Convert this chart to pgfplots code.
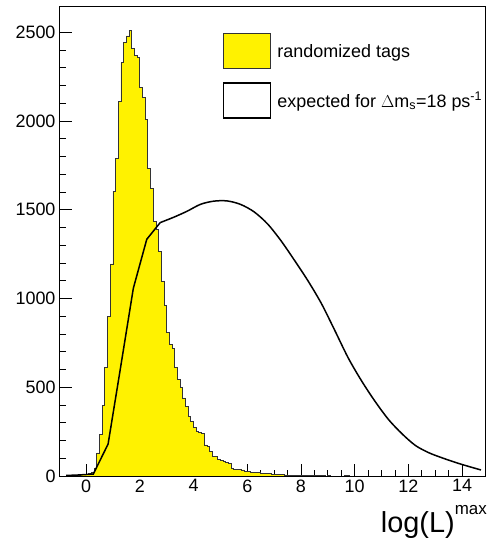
\documentclass[border=0pt]{standalone}
\usepackage{fontspec}
\setmainfont{Liberation Sans}
\usepackage{pgfplots}
\pgfplotsset{compat=1.18}
\usepackage{pgfplotstable}

\pgfplotstableread{
x y
-1.0 0
-0.9 0
-0.8 0
-0.7 3
-0.6 4
-0.5 5
-0.4 5
-0.3 6
-0.2 7
-0.1 8
0.0 10
0.1 12
0.2 20
0.3 45
0.4 130
0.5 235
0.6 400
0.7 610
0.8 900
0.9 1195
1.0 1605
1.1 1791
1.2 2110
1.3 2330
1.4 2443
1.5 2480
1.6 2510
1.7 2411
1.8 2370
1.9 2360
2.0 2191
2.1 2133
2.2 2007
2.3 1734
2.4 1622
2.5 1434
2.6 1390
2.7 1264
2.8 1095
2.9 960
3.0 810
3.1 740
3.2 720
3.3 610
3.4 545
3.5 500
3.6 440
3.7 390
3.8 335
3.9 305
4.0 275
4.1 250
4.2 245
4.3 240
4.4 175
4.5 165
4.6 137
4.7 112
4.8 108
4.9 95
5.0 88
5.1 82
5.2 75
5.3 70
5.4 45
5.5 38
5.6 38
5.7 36
5.8 34
5.9 28
6.0 24
6.1 22
6.2 20
6.3 20
6.4 18
6.5 16
6.6 15
6.7 14
6.8 12
6.9 11
7.0 10
7.1 9
7.2 8
7.3 7
7.4 6
7.5 5
7.6 5
7.7 4
7.8 4
7.9 3
8.0 3
8.1 4
8.2 3
8.3 3
8.4 2
8.5 2
8.6 1
8.7 1
8.8 1
8.9 0
9.0 1
9.1 0
9.6 1
9.7 2
9.8 0
15.0 0
}\hist

\pgfplotstableread{
x y
-0.74 3
-0.24 6
0.27 11
0.82 180
1.27 598
1.76 1058
2.26 1334
2.76 1428
}\curvea

\pgfplotstableread{
x y
2.76 1428
3.26 1458
3.76 1492
4.26 1531
4.76 1549
5.26 1550
5.76 1530
6.26 1488
6.76 1420
7.26 1325
7.76 1215
8.26 1100
8.76 972
9.26 820
9.76 665
10.26 535
10.76 420
11.26 318
11.76 238
12.26 172
12.76 131
13.26 102
13.76 76
14.26 53
14.70 34
}\curveb

\begin{document}
\begin{tikzpicture}
\begin{axis}[
  scale only axis,
  width=425bp, height=469bp,
  xmin=-0.97, xmax=14.85,
  ymin=0, ymax=2643,
  axis line style={black, line width=1bp},
  tick align=inside,
  tick pos=left,
  tick style={black, line width=0.9bp},
  major tick length=12bp,
  minor tick length=6bp,
  xtick={0,2,...,14},
  minor x tick num=3,
  ytick={0,500,...,2500},
  minor y tick num=4,
  /pgf/number format/assume math mode=true,
  /pgf/number format/set thousands separator={},
  ticklabel style={font=\fontsize{18}{20}\selectfont},
  yticklabel style={xshift=-1bp},
  xlabel={log(L)\raisebox{18bp}{\fontsize{17}{17}\selectfont max}},
  xlabel style={at={(axis description cs:1,0)}, anchor=base east, inner sep=0pt, yshift=-56bp, xshift=2bp, font=\fontsize{29}{30}\selectfont},
  legend style={at={(0.383,0.944)}, anchor=north west, draw=none, fill=none,
    inner sep=0pt, row sep=13bp, font=\fontsize{18}{20}\selectfont,
    /tikz/every odd column/.append style={column sep=4bp}},
  legend cell align=left,
]
\addplot[const plot, fill=yellow, draw=none, forget plot] table[x=x,y=y] {\hist} \closedcycle;
\addplot[const plot, draw=black!80, line width=0.8bp, forget plot] table[x=x,y=y] {\hist};
\addplot[black, line width=1.5bp, forget plot] table[x=x,y=y] {\curvea};
\addplot[black, line width=1.5bp, smooth, forget plot] table[x=x,y=y] {\curveb};
\addlegendimage{legend image code/.code={\draw[fill=yellow, draw=black!80, line width=0.8bp] (0bp,-17.5bp) rectangle (47bp,17.5bp);}}
\addlegendentry{randomized tags}
\addlegendimage{legend image code/.code={\draw[fill=white, draw=black, line width=1.5bp] (0bp,-17.5bp) rectangle (47bp,17.5bp);}}
\addlegendentry{expected for $\Delta$m\textsubscript{s}=18 ps\textsuperscript{-1}}
\end{axis}
\pgfresetboundingbox
\path[use as bounding box] (current axis.south west) ++(-60bp,-64bp) rectangle ++(489bp,540bp);
\end{tikzpicture}
\end{document}
